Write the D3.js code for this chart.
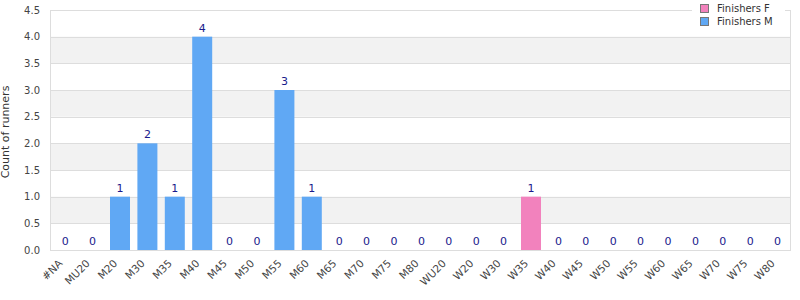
<!DOCTYPE html>
<html>
<head>
<meta charset="utf-8">
<script src="https://cdn.jsdelivr.net/npm/d3@7"></script>
<style>
  body { margin: 0; background: #fff; }
  text { font-family: "DejaVu Sans", Verdana, sans-serif; }
</style>
</head>
<body>
<div id="chart"></div>
<script>
const categories = ["#NA", "MU20", "M20", "M30", "M35", "M40", "M45", "M50", "M55", "M60", "M65", "M70", "M75", "M80",
  "WU20", "W20", "W30", "W35", "W40", "W45", "W50", "W55", "W60", "W65", "W70", "W75", "W80"];
const finishersM = [0, 0, 1, 2, 1, 4, 0, 0, 3, 1, 0, 0, 0, 0, 0, 0, 0, 0, 0, 0, 0, 0, 0, 0, 0, 0, 0];
const finishersF = [0, 0, 0, 0, 0, 0, 0, 0, 0, 0, 0, 0, 0, 0, 0, 0, 0, 1, 0, 0, 0, 0, 0, 0, 0, 0, 0];
const yTicks = [0, 0.5, 1, 1.5, 2, 2.5, 3, 3.5, 4, 4.5];

const svgWidth = 800;
const svgHeight = 300;
const margin = { top: 10, right: 10, bottom: 50, left: 50 };
const width = svgWidth - margin.left - margin.right;
const height = svgHeight - margin.top - margin.bottom;

const colorM = "#60a8f4";
const colorF = "#f282bd";

const svg = d3.select("#chart").append("svg")
  .attr("width", svgWidth)
  .attr("height", svgHeight);

const chartGroup = svg.append("g")
  .attr("transform", `translate(${margin.left}, ${margin.top})`);

const x = d3.scaleBand().domain(categories).range([1.5, width + 1.3]).paddingInner(0.27).paddingOuter(0.135);
const y = d3.scaleLinear().domain([0, 4.5]).range([height, 0]);

// alternating bands
const bands = [];
for (let i = 0; i < yTicks.length - 1; i++) {
  if (i % 2 === 1) bands.push([yTicks[i], yTicks[i + 1]]);
}
chartGroup.selectAll(".band")
  .data(bands)
  .enter()
  .append("rect")
  .attr("x", 0)
  .attr("width", width)
  .attr("y", d => y(d[1]))
  .attr("height", d => y(d[0]) - y(d[1]))
  .attr("fill", "#f2f2f2");

// grid lines
chartGroup.selectAll(".grid")
  .data(yTicks)
  .enter()
  .append("line")
  .attr("x1", 0)
  .attr("x2", width)
  .attr("y1", d => Math.round(y(d)) + 0.5)
  .attr("y2", d => Math.round(y(d)) + 0.5)
  .attr("stroke", "#dddddd");

// frame
chartGroup.append("rect")
  .attr("x", 0.5)
  .attr("y", 0.5)
  .attr("width", width)
  .attr("height", height)
  .attr("fill", "none")
  .attr("stroke", "#dddddd");

// stacked bars: F at bottom, M on top
const rows = categories.map((c, i) => ({ cat: c, F: finishersF[i], M: finishersM[i] }));
const stack = d3.stack().keys(["F", "M"])(rows);
const colors = { F: colorF, M: colorM };

stack.forEach(layer => {
  chartGroup.selectAll(".bar-" + layer.key)
    .data(layer)
    .enter()
    .append("rect")
    .attr("x", d => x(d.data.cat))
    .attr("width", x.bandwidth())
    .attr("y", d => y(d[1]))
    .attr("height", d => y(d[0]) - y(d[1]))
    .attr("fill", colors[layer.key]);
});

// total labels
chartGroup.selectAll(".total")
  .data(rows)
  .enter()
  .append("text")
  .attr("x", d => x(d.cat) + x.bandwidth() / 2)
  .attr("y", d => y(d.F + d.M) - 5)
  .attr("text-anchor", "middle")
  .attr("font-size", 11)
  .attr("fill", "#1a1a8c")
  .text(d => d.F + d.M);

// y axis
const yAxis = chartGroup.append("g")
  .call(d3.axisLeft(y).tickValues(yTicks).tickFormat(d3.format(".1f")).tickSize(0).tickPadding(10));
yAxis.select(".domain").remove();
yAxis.selectAll("text").attr("font-size", 10).attr("fill", "#444");

// x axis
const xAxis = chartGroup.append("g")
  .attr("transform", `translate(0, ${height})`)
  .call(d3.axisBottom(x).tickSize(0));
xAxis.select(".domain").remove();
xAxis.selectAll("text")
  .attr("font-size", 10.5)
  .attr("fill", "#444")
  .attr("text-anchor", "end")
  .attr("y", 0)
  .attr("dy", 0)
  .attr("transform", "translate(-2, 14) rotate(-45)");

// y title
svg.append("text")
  .attr("transform", `translate(9, ${margin.top + height / 2 + 2}) rotate(-90)`)
  .attr("text-anchor", "middle")
  .attr("font-size", 11)
  .attr("fill", "#333")
  .text("Count of runners");

// legend
const legend = svg.append("g").attr("transform", "translate(692, 0)");
legend.append("rect")
  .attr("width", 93)
  .attr("height", 28)
  .attr("fill", "#fff");
const legendItems = [["Finishers F", colorF], ["Finishers M", colorM]];
legendItems.forEach((item, i) => {
  legend.append("rect")
    .attr("x", 8.5)
    .attr("y", 4.5 + i * 13)
    .attr("width", 8)
    .attr("height", 8)
    .attr("fill", item[1])
    .attr("stroke", "#777");
  legend.append("text")
    .attr("x", 25)
    .attr("y", 12 + i * 13)
    .attr("font-size", 10)
    .attr("fill", "#333")
    .text(item[0]);
});
</script>
</body>
</html>
